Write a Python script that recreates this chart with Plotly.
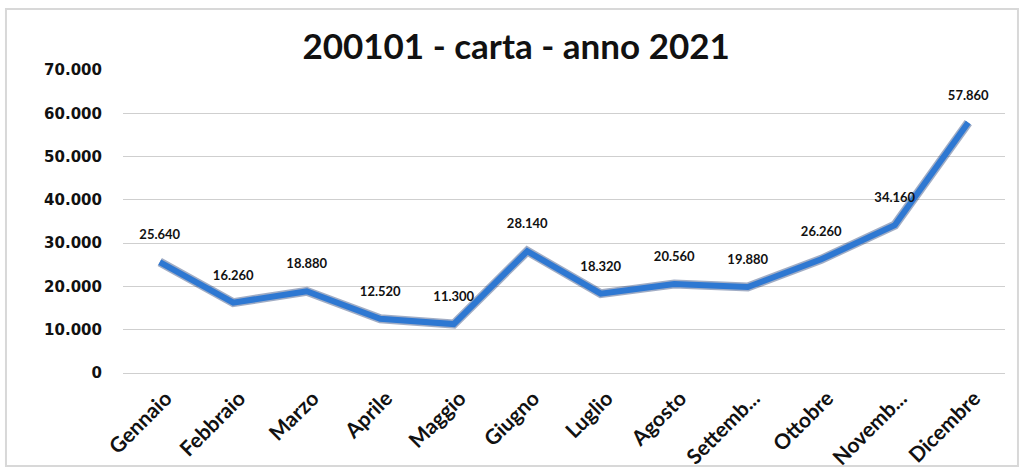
import plotly.graph_objects as go

months = ["Gennaio", "Febbraio", "Marzo", "Aprile", "Maggio", "Giugno",
          "Luglio", "Agosto", "Settemb...", "Ottobre", "Novemb...", "Dicembre"]
values = [25640, 16260, 18880, 12520, 11300, 28140, 18320, 20560, 19880, 26260, 34160, 57860]
labels = ["25.640", "16.260", "18.880", "12.520", "11.300", "28.140",
          "18.320", "20.560", "19.880", "26.260", "34.160", "57.860"]
y_ticks = [0, 10000, 20000, 30000, 40000, 50000, 60000, 70000]
y_tick_text = ["0", "10.000", "20.000", "30.000", "40.000", "50.000", "60.000", "70.000"]

fig = go.Figure()
# shadow
fig.add_trace(go.Scatter(x=months, y=values, mode="lines",
                         line=dict(color="rgba(20,50,110,0.4)", width=9),
                         hoverinfo="skip", showlegend=False))
fig.add_trace(go.Scatter(x=months, y=values, mode="lines",
                         line=dict(color="#2e78d2", width=6),
                         showlegend=False))
# data labels
fig.add_trace(go.Scatter(x=months, y=values, mode="markers+text",
                         marker=dict(size=30, opacity=0),
                         text=labels, textposition="top center",
                         textfont=dict(family="Lato", size=13, color="#111111", weight="bold"),
                         hoverinfo="skip", showlegend=False))

fig.update_layout(
    width=1022, height=470,
    margin=dict(l=123, r=17, t=70, b=97, autoexpand=False),
    paper_bgcolor="white", plot_bgcolor="white",
    title=dict(text="200101 - carta - anno 2021", x=0.505, xanchor="center",
               y=0.9, yanchor="middle",
               font=dict(family="Lato", size=35, color="#111111", weight="bold")),
    xaxis=dict(type="category", tickangle=-45, showgrid=False, showline=False,
               automargin=False,
               tickfont=dict(family="Lato", size=21, color="#111111", weight="bold"),
               ticks="", range=[-0.5, 11.5], ticklabelstandoff=8, ticklabelshift=6),
    yaxis=dict(range=[0, 70000], tickvals=y_ticks, ticktext=y_tick_text,
               showgrid=True, gridcolor="#cfcfcf", gridwidth=1,
               zeroline=True, zerolinecolor="#cfcfcf", zerolinewidth=1,
               automargin=False,
               tickfont=dict(family="DejaVu Sans", size=15, color="#111111", weight="bold"),
               ticklabelstandoff=20),
    shapes=[dict(type="rect", xref="paper", yref="paper", x0=-0.1327, x1=1.0147, y0=-0.307, y1=1.201,
                 line=dict(color="#d8d8d8", width=2))],
)

fig.write_html("out.html")
